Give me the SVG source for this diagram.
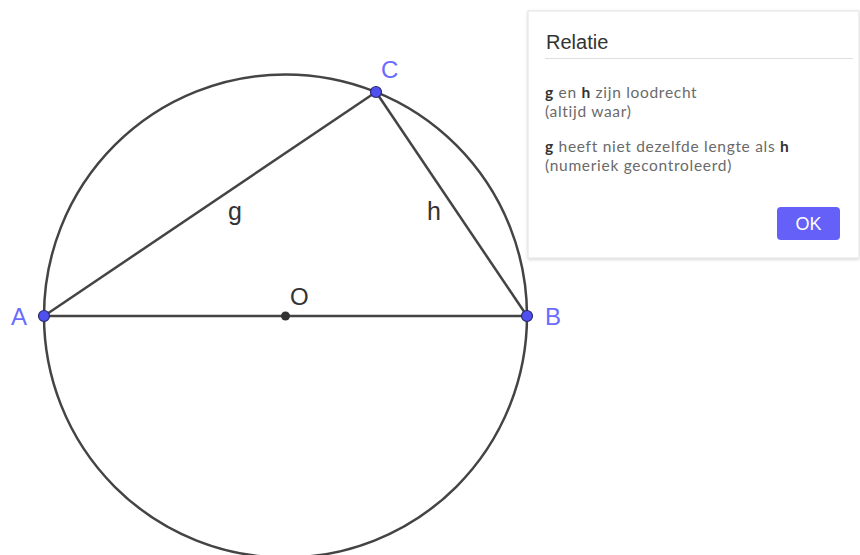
<svg xmlns="http://www.w3.org/2000/svg" width="860" height="555" viewBox="0 0 860 555">
<defs>
<filter id="sh" x="-5%" y="-5%" width="110%" height="110%"><feDropShadow dx="0" dy="1" stdDeviation="1.5" flood-color="#000" flood-opacity="0.18"/></filter>
</defs>
<style>
.ln{stroke:#444;stroke-width:2.5;fill:none}
.pt{fill:#5050f0;stroke:#2a2a6a;stroke-width:1.2}
.pl{font-family:"Liberation Sans",Arial,sans-serif;font-size:24px;fill:#6b6bff}
.sl{font-family:"Liberation Sans",Arial,sans-serif;font-size:25px;fill:#333}
.dt{font-family:Lato,"Open Sans",sans-serif;font-size:15.5px;letter-spacing:0.7px;fill:#6a6a6a}
.db{fill:#333;font-weight:bold}
</style>
<rect width="860" height="555" fill="#fff"/>
<g id="connectors">
<circle class="ln" cx="285.5" cy="316" r="241.5"/>
<line class="ln" x1="44" y1="316" x2="527" y2="316"/>
<line class="ln" x1="44" y1="316" x2="376" y2="92"/>
<line class="ln" x1="376" y1="92" x2="527" y2="316"/>
<text class="sl" x="228" y="220">g</text>
<text class="sl" x="427" y="220">h</text>
</g>
<g id="O"><circle cx="285.5" cy="316" r="4.5" fill="#333"/><text class="sl" x="290" y="305" style="font-size:24px">O</text></g>
<g id="A"><circle class="pt" cx="44" cy="316" r="5.5"/><text class="pl" x="11" y="325">A</text></g>
<g id="B"><circle class="pt" cx="527" cy="316" r="5.5"/><text class="pl" x="545" y="325">B</text></g>
<g id="C"><circle class="pt" cx="376" cy="92" r="5.5"/><text class="pl" x="381" y="78">C</text></g>
<g id="dialog">
<rect x="528" y="11" width="331" height="247" fill="#fff" stroke="#e2e2e2" filter="url(#sh)"/>
<text x="546" y="49" font-family="'Liberation Sans',Arial,sans-serif" font-size="20" fill="#333">Relatie</text>
<line x1="545" y1="58.5" x2="853" y2="58.5" stroke="#ddd" stroke-width="1"/>
<text class="dt" x="545" y="98"><tspan class="db">g</tspan> en <tspan class="db">h</tspan> zijn loodrecht</text>
<text class="dt" x="545" y="117">(altijd waar)</text>
<text class="dt" x="545" y="152"><tspan class="db">g</tspan> heeft niet dezelfde lengte als <tspan class="db">h</tspan></text>
<text class="dt" x="545" y="171">(numeriek gecontroleerd)</text>
<g id="ok"><rect x="777" y="207" width="63" height="33" rx="4" fill="#6560f7"/>
<text x="808.5" y="230" text-anchor="middle" font-family="'Liberation Sans',Arial,sans-serif" font-size="18" fill="#fff">OK</text></g>
</g>
</svg>
